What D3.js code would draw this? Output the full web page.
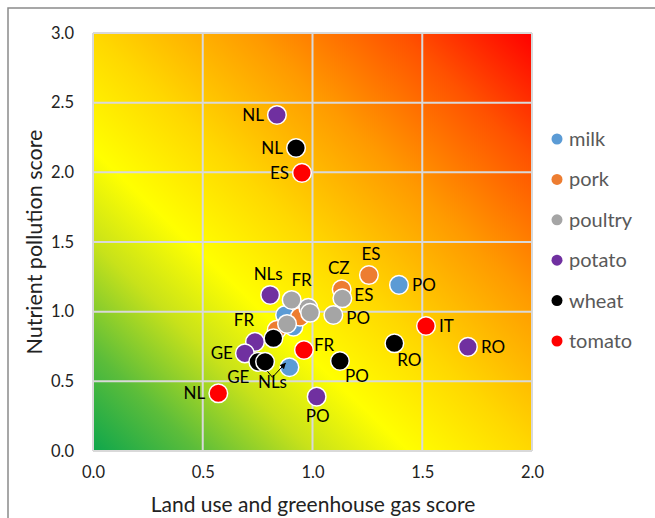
<!DOCTYPE html>
<html><head><meta charset="utf-8">
<script src="https://cdn.jsdelivr.net/npm/d3@7"></script>
<style>body{margin:0;background:#fff;} svg{display:block;font-family:Lato,"Open Sans",sans-serif;}</style>
</head><body><svg id="c" width="655" height="518"></svg>
<script>
const seriesNames = ["milk","pork","poultry","potato","wheat","tomato"];
const seriesColors = ["#5b9bd5","#ed7d31","#a5a5a5","#7030a0","#000000","#ff0000"];
const xTicks = [0.0,0.5,1.0,1.5,2.0];
const yTicks = [0.0,0.5,1.0,1.5,2.0,2.5,3.0];

const milkX = [0.875,0.913,0.895,1.394];
const milkY = [0.976,0.892,0.601,1.192];
const milkLab = ["","","NLs","PO"];

const porkX = [0.943,0.837,1.133,1.257];
const porkY = [0.964,0.869,1.160,1.263];
const porkLab = ["","","CZ","ES"];

const poultryX = [0.981,0.989,0.884,0.905,1.136,1.095];
const poultryY = [1.028,0.992,0.912,1.084,1.096,0.976];
const poultryLab = ["","","","FR","ES","PO"];

const potatoX = [0.838,0.807,0.738,0.692,1.019,1.708];
const potatoY = [2.412,1.120,0.783,0.701,0.390,0.747];
const potatoLab = ["NL","NLs","FR","GE","PO","RO"];

const wheatX = [0.925,0.822,0.753,0.784,1.125,1.373];
const wheatY = [2.175,0.809,0.640,0.640,0.646,0.773];
const wheatLab = ["NL","","GE","","PO","RO"];

const tomatoX = [0.952,0.961,1.517,0.571];
const tomatoY = [1.996,0.725,0.897,0.414];
const tomatoLab = ["ES","FR","IT","NL"];

// label placement (offsets in px, text-anchor)
const placement = {
  "milk-NLs":[-17,21,"middle"], "milk-PO":[13,6,"start"],
  "pork-CZ":[-3,-15,"middle"], "pork-ES":[2,-15,"middle"],
  "poultry-FR":[10,-14,"middle"], "poultry-ES":[12,3,"start"], "poultry-PO":[13,9,"start"],
  "potato-NL":[-13,6,"end"], "potato-NLs":[-2,-15,"middle"], "potato-FR":[-11,-16,"middle"],
  "potato-GE":[-12,6,"end"], "potato-PO":[1,25,"middle"], "potato-RO":[13,6,"start"],
  "wheat-NL":[-13,6,"end"], "wheat-GE":[-20,21,"middle"], "wheat-PO":[17,21,"middle"], "wheat-RO":[15,23,"middle"],
  "tomato-ES":[-13,6,"end"], "tomato-FR":[10,1,"start"], "tomato-IT":[13,6,"start"], "tomato-NL":[-13,6,"end"]
};

const series = [
  {name:"milk", x:milkX, y:milkY, lab:milkLab},
  {name:"pork", x:porkX, y:porkY, lab:porkLab},
  {name:"poultry", x:poultryX, y:poultryY, lab:poultryLab},
  {name:"potato", x:potatoX, y:potatoY, lab:potatoLab},
  {name:"wheat", x:wheatX, y:wheatY, lab:wheatLab},
  {name:"tomato", x:tomatoX, y:tomatoY, lab:tomatoLab}
];

const svg = d3.select("#c");
const L=93, R=532, T=33, B=451;
const x = d3.scaleLinear().domain([0,2]).range([L,R]);
const y = d3.scaleLinear().domain([0,3]).range([B,T]);
const color = d3.scaleOrdinal().domain(seriesNames).range(seriesColors);

// frame
svg.append("rect").attr("x",8).attr("y",8).attr("width",700).attr("height",600)
  .attr("fill","none").attr("stroke","#8a8a8a").attr("stroke-width",1.5);

// gradient
const defs = svg.append("defs");
const g = defs.append("linearGradient").attr("id","bg").attr("x1",0).attr("y1",1).attr("x2",1).attr("y2",0);
[[0,"#0ea64c"],[0.12,"#5cbd3a"],[0.25,"#c8e21a"],[0.36,"#ffff00"],[0.5,"#ffd800"],[0.68,"#ff9a00"],[0.85,"#ff5200"],[1,"#ff0000"]]
  .forEach(s=>g.append("stop").attr("offset",s[0]).attr("stop-color",s[1]));
svg.append("rect").attr("x",L).attr("y",T).attr("width",R-L).attr("height",B-T).attr("fill","url(#bg)");

// grid
svg.append("g").selectAll("line").data(xTicks).join("line")
  .attr("x1",d=>x(d)).attr("x2",d=>x(d)).attr("y1",T).attr("y2",B)
  .attr("stroke","#d9d9d9").attr("stroke-width",2);
svg.append("g").selectAll("line").data(yTicks).join("line")
  .attr("y1",d=>y(d)).attr("y2",d=>y(d)).attr("x1",L).attr("x2",R)
  .attr("stroke","#d9d9d9").attr("stroke-width",2);

// axes
const xa = svg.append("g").attr("transform",`translate(0,${B})`)
  .call(d3.axisBottom(x).tickValues(xTicks).tickFormat(d3.format(".1f")).tickSize(0).tickPadding(15));
const ya = svg.append("g").attr("transform",`translate(${L},0)`)
  .call(d3.axisLeft(y).tickValues(yTicks).tickFormat(d3.format(".1f")).tickSize(0).tickPadding(19));
[xa,ya].forEach(a=>{a.select(".domain").remove(); a.selectAll("text").attr("font-size",16.5).attr("fill","#222").attr("font-family","Lato, sans-serif");});

// axis titles
svg.append("text").attr("x",313).attr("y",512).attr("text-anchor","middle")
  .attr("font-size",21).attr("fill","#222").text("Land use and greenhouse gas score");
svg.append("text").attr("transform","translate(42,242) rotate(-90)").attr("text-anchor","middle")
  .attr("font-size",21.5).attr("fill","#222").text("Nutrient pollution score");

// points
const pts = svg.append("g");
series.forEach(s=>{
  const data = s.x.map((v,i)=>({x:v,y:s.y[i],lab:s.lab[i],name:s.name}));
  pts.append("g").selectAll("circle").data(data).join("circle")
    .attr("cx",d=>x(d.x)).attr("cy",d=>y(d.y)).attr("r",9.3)
    .attr("fill",color(s.name)).attr("stroke","#fff").attr("stroke-width",1.5);
});

// labels
const labs = svg.append("g");
series.forEach(s=>{
  s.x.forEach((v,i)=>{
    if(!s.lab[i]) return;
    const p = placement[s.name+"-"+s.lab[i]] || [12,5,"start"];
    labs.append("text").attr("x",x(v)+p[0]).attr("y",y(s.y[i])+p[1]).attr("text-anchor",p[2])
      .attr("font-size",17).attr("fill","#000").text(s.lab[i]);
  });
});

// arrow for NLs milk
defs.append("marker").attr("id","ah").attr("viewBox","0 0 10 10").attr("refX",9).attr("refY",5)
  .attr("markerWidth",6).attr("markerHeight",6).attr("orient","auto")
  .append("path").attr("d","M0,0L10,5L0,10z").attr("fill","#000");
svg.append("path").attr("d",`M${x(milkX[2])-22},${y(milkY[2])+4} L${x(milkX[2])-17},${y(milkY[2])+10} L${x(milkX[2])-4},${y(milkY[2])-4}`)
  .attr("fill","none").attr("stroke","#000").attr("stroke-width",1).attr("marker-end","url(#ah)");

// legend
const lg = svg.append("g");
seriesNames.forEach((n,i)=>{
  const yy = 139 + i*40.4;
  lg.append("circle").attr("cx",557).attr("cy",yy).attr("r",5.5).attr("fill",color(n));
  lg.append("text").attr("x",569).attr("y",yy+7).attr("font-size",20).attr("fill","#595959").text(n);
});
</script></body></html>
